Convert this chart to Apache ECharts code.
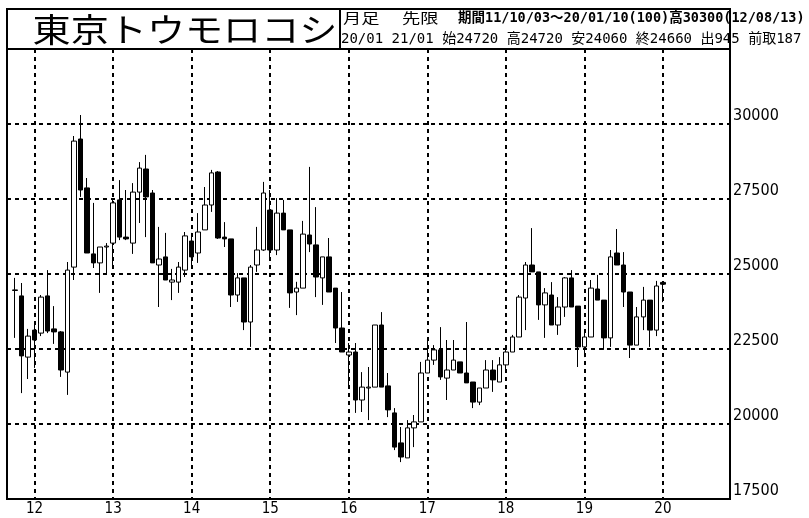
<!DOCTYPE html>
<html>
<head>
<meta charset="utf-8">
<script src="https://cdn.jsdelivr.net/npm/echarts@6/dist/echarts.min.js"></script>
<style>
  html, body { margin: 0; padding: 0; background: #fff; }
  #main { width: 809px; height: 518px; }
</style>
</head>
<body>
<div id="main"></div>
<script>
// 東京トウモロコシ 月足 先限, 2011/10 - 2020/01 (100本)
var opens = [
  24450, 24270, 22230, 23130, 23030, 24270, 23170, 23070, 21730, 25230,
  29500, 27870, 25670, 25370, 25900, 26030, 27470, 26230, 26030, 27730,
  28500, 27700, 25300, 25570, 24730, 24730, 25130, 26100, 25700, 26470,
  27300, 28400, 26230, 26170, 24300, 24870, 23400, 25300, 25800, 27130,
  25800, 27030, 26470, 24400, 24530, 26300, 25970, 24870, 25570, 24530,
  23200, 22300, 22400, 20800, 21200, 21230, 23300, 21270, 20370, 19370,
  18870, 19870, 20070, 21700, 22130, 22470, 21530, 21800, 22070, 21700,
  21400, 20730, 21200, 21800, 21400, 21970, 22400, 22900, 24200, 25300,
  25070, 23970, 24300, 23300, 23900, 24870, 23930, 22570, 22900, 24500,
  24130, 22870, 25700, 25300, 24400, 22630, 23570, 24130, 23130, 24720
];
var closes = [
  24470, 22270, 22930, 22800, 24230, 23100, 23070, 21800, 25130, 29430,
  27800, 25700, 25370, 25900, 25930, 27370, 26230, 26170, 27730, 28530,
  27570, 25370, 25500, 24800, 24800, 25230, 26270, 25570, 26400, 27300,
  28370, 26200, 26170, 24300, 24870, 23400, 25230, 25800, 27700, 25800,
  27030, 26470, 24370, 24530, 26330, 26000, 24900, 25570, 24400, 23200,
  22400, 22400, 20800, 21230, 21230, 23300, 21230, 20470, 19230, 18900,
  19870, 20070, 21700, 22130, 22470, 21570, 21800, 22130, 21700, 21370,
  20730, 21200, 21800, 21470, 21970, 22400, 22900, 24230, 25300, 25070,
  23970, 24370, 23300, 23900, 24870, 23900, 22570, 22900, 24530, 24130,
  22870, 25570, 25300, 24400, 22630, 23570, 24130, 23130, 24600, 24660
];
var lows = [
  22870, 21030, 21500, 21870, 22930, 23030, 22670, 21570, 20970, 24800,
  27570, 25700, 25200, 24370, 24970, 25270, 26130, 26130, 25670, 26700,
  26230, 25370, 23900, 24800, 24130, 24370, 24900, 25230, 25370, 26470,
  27070, 26170, 25900, 23900, 24070, 23130, 22570, 25070, 25770, 25530,
  25630, 26470, 23870, 23630, 24530, 25730, 24230, 23970, 24400, 22700,
  22400, 21300, 20370, 20400, 20130, 21230, 21230, 20230, 19130, 18730,
  18870, 19230, 20070, 21700, 21970, 21470, 20800, 21800, 21700, 21370,
  20530, 20630, 21200, 21070, 21400, 21700, 22400, 22900, 23130, 25070,
  23470, 22870, 23300, 22970, 23570, 23900, 21900, 22230, 22900, 24130,
  22470, 22570, 25300, 23900, 22200, 22630, 23130, 22570, 22930, 24060
];
var highs = [
  24870, 24700, 23170, 23400, 24300, 25130, 23930, 23100, 25400, 29600,
  30300, 28200, 27370, 25900, 26030, 27470, 28130, 27800, 28030, 28730,
  28970, 27800, 26570, 26370, 25170, 25400, 26400, 26370, 27030, 27900,
  28470, 28430, 26730, 26170, 25030, 24870, 25300, 26570, 28070, 27800,
  27530, 27470, 26470, 24740, 26770, 28570, 27230, 25570, 26200, 24530,
  24400, 22700, 22700, 21730, 21900, 23300, 23730, 21700, 20530, 19900,
  20130, 20300, 22070, 22800, 22630, 23230, 22800, 22800, 22070, 23400,
  21400, 21200, 22130, 22130, 22230, 22470, 22970, 24300, 25400, 26530,
  25070, 24530, 24730, 24230, 24900, 25130, 23930, 23130, 24800, 24970,
  24130, 25800, 26500, 25730, 24400, 23900, 24570, 24130, 24770, 24720
];
var yTicks = [17500, 20000, 22500, 25000, 27500, 30000];

var titleText = '東京トウモロコシ';
var headLine1 = '期間11/10/03～20/01/10(100)高30300(12/08/13)';
var headLine2 = '20/01 21/01 始24720 高24720 安24060 終24660 出945 前取187';

// month labels, first bar is 2011/10
var months = [];
for (var i = 0; i < opens.length; i++) {
  var m = 9 + i;
  var mm = (m % 12) + 1;
  months.push((2011 + Math.floor(m / 12)) + '/' + (mm < 10 ? '0' + mm : mm));
}

var candles = opens.map(function (o, i) {
  return [o, closes[i], lows[i], highs[i]];
});

var isJan = function (idx, val) {
  return String(val).slice(5) === '01';
};
var dash = { color: '#000', width: 2, type: [4, 4] };
var monoFont = "'DejaVu Sans Mono', 'Noto Sans CJK JP', monospace";
var narrowFont = "'Liberation Sans Narrow', 'DejaVu Sans Condensed', sans-serif";
var jpFont = "'Noto Sans CJK JP', sans-serif";

var chart = echarts.init(document.getElementById('main'));
chart.setOption({
  animation: false,
  backgroundColor: '#fff',
  grid: [
    { left: 11.7, right: 142.8, top: 49, bottom: 19, outerBoundsMode: 'none' },
    {
      left: 7, right: 79, top: 49, bottom: 19, outerBoundsMode: 'none',
      show: true, borderColor: '#000', borderWidth: 2, backgroundColor: 'transparent'
    }
  ],
  xAxis: [
    {
      type: 'category',
      gridIndex: 0,
      data: months,
      boundaryGap: true,
      axisLine: { show: false },
      axisTick: { show: false },
      axisLabel: {
        interval: isJan,
        formatter: function (v) { return v.slice(2, 4); },
        color: '#000',
        fontSize: 15,
        fontFamily: narrowFont,
        margin: 3
      },
      // lines on the January bars themselves
      splitLine: { show: true, interval: isJan, alignWithLabel: true, lineStyle: dash }
    },
    { type: 'value', gridIndex: 1, show: false, min: 0, max: 1 }
  ],
  yAxis: [
    { type: 'value', gridIndex: 0, min: 17500, max: 32500, show: false },
    {
      type: 'value',
      gridIndex: 1,
      position: 'right',
      min: 17500,
      max: 32500,
      interval: 2500,
      axisLine: { show: false },
      axisTick: { show: false },
      axisLabel: {
        formatter: function (v) { return yTicks.indexOf(v) >= 0 ? String(v) : ''; },
        color: '#000',
        fontSize: 16,
        fontFamily: narrowFont,
        verticalAlign: 'bottom',
        lineHeight: 16,
        margin: 3
      },
      splitLine: { show: true, lineStyle: dash }
    }
  ],
  series: [{
    type: 'candlestick',
    xAxisIndex: 0,
    yAxisIndex: 0,
    data: candles,
    barWidth: 5,
    itemStyle: {
      color: '#fff',
      color0: '#000',
      borderColor: '#000',
      borderColor0: '#000',
      borderColorDoji: '#000',
      borderWidth: 1
    }
  }],
  graphic: [
    {
      type: 'text', x: 185, y: 29, scaleX: 1.155, z: 10,
      style: {
        text: titleText, x: 0, y: 0, fill: '#000',
        fontSize: 33, fontFamily: jpFont,
        align: 'center', verticalAlign: 'middle',
        textAlign: 'center', textVerticalAlign: 'middle'
      }
    },
    {
      type: 'text', x: 343, y: 18, scaleX: 1.3, z: 10,
      style: { text: '月足', x: 0, y: 0, fill: '#000', fontSize: 14, fontFamily: jpFont,
        verticalAlign: 'middle', textVerticalAlign: 'middle' }
    },
    {
      type: 'text', x: 402, y: 18, scaleX: 1.3, z: 10,
      style: { text: '先限', x: 0, y: 0, fill: '#000', fontSize: 14, fontFamily: jpFont,
        verticalAlign: 'middle', textVerticalAlign: 'middle' }
    },
    {
      type: 'text', x: 458, y: 18, z: 10,
      style: { text: headLine1, x: 0, y: 0, fill: '#000', fontSize: 13.5, fontFamily: monoFont,
        fontWeight: 'bold', verticalAlign: 'middle', textVerticalAlign: 'middle' }
    },
    {
      type: 'text', x: 341, y: 39, z: 10,
      style: { text: headLine2, x: 0, y: 0, fill: '#000', fontSize: 14, fontFamily: monoFont,
        verticalAlign: 'middle', textVerticalAlign: 'middle' }
    },
    {
      type: 'rect', z: 20,
      shape: { x: 7, y: 9, width: 723, height: 40 },
      style: { fill: 'none', stroke: '#000', lineWidth: 2 }
    },
    {
      type: 'line', z: 20,
      shape: { x1: 340, y1: 9, x2: 340, y2: 49 },
      style: { stroke: '#000', lineWidth: 2 }
    }
  ]
});
</script>
</body>
</html>
